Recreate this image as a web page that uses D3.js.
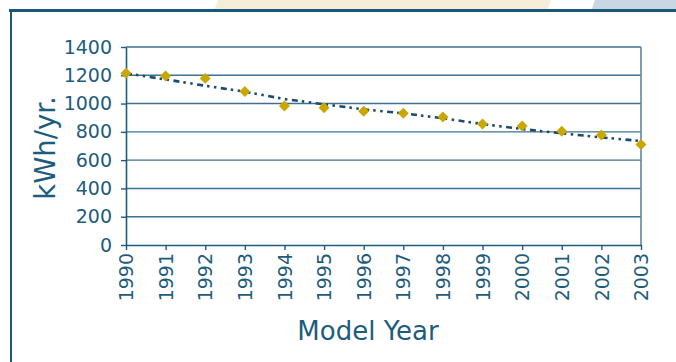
<!DOCTYPE html>
<html>
<head>
<meta charset="utf-8">
<script src="https://cdn.jsdelivr.net/npm/d3@7"></script>
<style>
  html, body { margin: 0; padding: 0; background: #fff; }
  svg { display: block; }
  text { font-family: "DejaVu Sans", Verdana, sans-serif; fill: #1d5c7d; }
</style>
</head>
<body>
<svg id="chart" width="676" height="362"></svg>
<script>
// Annual energy use per model year, with its fitted trend
const years = ["1990","1991","1992","1993","1994","1995","1996","1997","1998","1999","2000","2001","2002","2003"];
const usage = [1215, 1195, 1178, 1086, 983, 971, 945, 931, 905, 855, 841, 804, 778, 710];
const trend = [1214, 1171, 1126, 1084, 1032, 995, 959, 931, 896, 855, 820, 790, 761, 735];
const yTicks = [0, 200, 400, 600, 800, 1000, 1200, 1400];

const svg = d3.select("#chart");
const W = 676, H = 362;
const plot = { left: 126, right: 641, top: 47, bottom: 245 };

const ink = "#1d5c7d";
const gridColor = "#3f7292";

// Slide banner shapes along the top edge
svg.append("polygon")
  .attr("points", "218,0 551,0 547.5,9.5 214.5,9.5")
  .attr("fill", "#f6eed8");
svg.append("polygon")
  .attr("points", "595,0 676,0 676,9.5 591.5,9.5")
  .attr("fill", "#c9d6e4");

// Panel frame
svg.append("line")
  .attr("x1", 9).attr("x2", W).attr("y1", 10.5).attr("y2", 10.5)
  .attr("stroke", "#1b5778").attr("stroke-width", 3);
svg.append("line")
  .attr("x1", 11).attr("x2", 11).attr("y1", 9).attr("y2", H)
  .attr("stroke", "#1b5778").attr("stroke-width", 2);

const x = d3.scalePoint().domain(years).range([plot.left, plot.right]);
const y = d3.scaleLinear().domain([0, 1400]).range([plot.bottom, plot.top]);

// Horizontal gridlines
svg.append("g")
  .selectAll("line")
  .data(yTicks.filter(v => v > 0))
  .join("line")
  .attr("x1", plot.left).attr("x2", plot.right)
  .attr("y1", d => y(d)).attr("y2", d => y(d))
  .attr("stroke", gridColor).attr("stroke-width", 1.4);

// Right edge of plot area
svg.append("line")
  .attr("x1", plot.right).attr("x2", plot.right)
  .attr("y1", plot.top).attr("y2", plot.bottom)
  .attr("stroke", "#5f87a0").attr("stroke-width", 1.6);

// Y axis
const yAxis = svg.append("g")
  .attr("transform", `translate(${plot.left},0)`)
  .call(d3.axisLeft(y).tickValues(yTicks).tickFormat(d3.format("d"))
    .tickSize(5).tickPadding(9).tickSizeOuter(0));
yAxis.select(".domain").attr("stroke", ink).attr("stroke-width", 1.6);
yAxis.selectAll(".tick line").attr("stroke", ink).attr("stroke-width", 1.4);
yAxis.selectAll("text").style("font-size", "19px").attr("fill", ink);

// X axis with vertical year labels
const xAxis = svg.append("g")
  .attr("transform", `translate(0,${plot.bottom})`)
  .call(d3.axisBottom(x).tickSize(5).tickSizeOuter(0));
xAxis.select(".domain").attr("stroke", ink).attr("stroke-width", 1.6);
xAxis.selectAll(".tick line").attr("stroke", ink).attr("stroke-width", 1.4);
xAxis.selectAll("text")
  .style("font-size", "19px")
  .attr("fill", ink)
  .attr("transform", "rotate(-90)")
  .attr("text-anchor", "end")
  .attr("x", -8)
  .attr("y", 0)
  .attr("dy", "0.35em");

// Trend line
const trendLine = d3.line()
  .x((d, i) => x(years[i]))
  .y(d => y(d));
svg.append("path")
  .datum(trend)
  .attr("d", trendLine)
  .attr("fill", "none")
  .attr("stroke", "#1a4c6c")
  .attr("stroke-width", 2.6)
  .attr("stroke-dasharray", "6,4,2.5,4.5,2.5,4.5");

// Data markers (diamonds)
svg.append("g")
  .selectAll("path")
  .data(usage)
  .join("path")
  .attr("d", d3.symbol(d3.symbolSquare, 60))
  .attr("transform", (d, i) => `translate(${x(years[i])},${y(d)}) rotate(45)`)
  .attr("fill", "#c9a700");

// Axis titles
svg.append("text")
  .attr("x", 368).attr("y", 340)
  .attr("text-anchor", "middle")
  .style("font-size", "26px")
  .text("Model Year");

svg.append("text")
  .attr("transform", "translate(55,148) rotate(-90)")
  .attr("text-anchor", "middle")
  .style("font-size", "27.5px")
  .text("kWh/yr.");
</script>
</body>
</html>
